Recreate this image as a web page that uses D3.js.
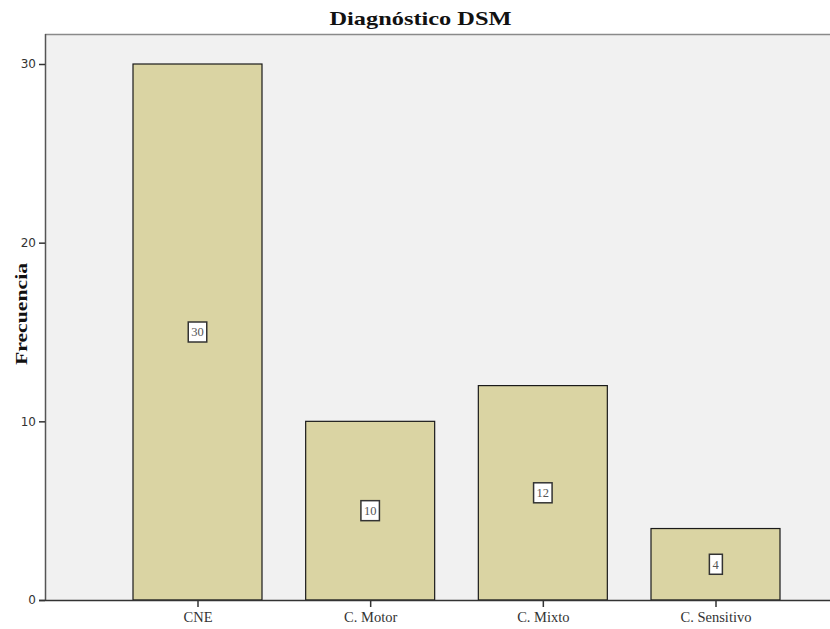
<!DOCTYPE html>
<html>
<head>
<meta charset="utf-8">
<script src="https://cdn.jsdelivr.net/npm/d3@7"></script>
<style>
  html, body { margin: 0; padding: 0; background: #fff; }
  svg { display: block; }
</style>
</head>
<body>
<svg id="chart" width="830" height="629"></svg>
<script>
// Diagnosis categories and their counts
const categories = ["CNE", "C. Motor", "C. Mixto", "C. Sensitivo"];
const frequencies = [30, 10, 12, 4];
const yTicks = [0, 10, 20, 30];
const chartTitle = "Diagnóstico DSM";
const yLabel = "Frecuencia";

const svg = d3.select("#chart");
const plot = { left: 45, top: 34, right: 831, bottom: 600 };

// Plot background
svg.append("rect")
  .attr("x", plot.left).attr("y", plot.top)
  .attr("width", plot.right - plot.left).attr("height", plot.bottom - plot.top)
  .attr("fill", "#f1f1f1");

// Top frame line
svg.append("line")
  .attr("x1", plot.left).attr("x2", plot.right)
  .attr("y1", plot.top + 0.5).attr("y2", plot.top + 0.5)
  .attr("stroke", "#8a8a8a").attr("stroke-width", 1.5);

const y = d3.scaleLinear().domain([0, 30]).range([plot.bottom, 64]);
const x = d3.scalePoint().domain(categories).range([197.5, 715.5]);
const barWidth = 129;

// Bars
const data = categories.map((c, i) => ({ cat: c, value: frequencies[i] }));
svg.append("g").selectAll("rect").data(data).join("rect")
  .attr("x", d => x(d.cat) - barWidth / 2)
  .attr("y", d => y(d.value))
  .attr("width", barWidth)
  .attr("height", d => y(0) - y(d.value))
  .attr("fill", "#dad4a3")
  .attr("stroke", "#1a1a1a")
  .attr("stroke-width", 1.2);

// Value labels in boxes at mid-height of each bar
const labels = svg.append("g").selectAll("g").data(data).join("g")
  .attr("transform", d => `translate(${x(d.cat)},${y(d.value / 2)})`);
labels.append("text")
  .attr("text-anchor", "middle")
  .attr("dy", "0.35em")
  .attr("font-family", "Liberation Serif, serif")
  .attr("font-size", 12.5)
  .attr("fill", "#555")
  .text(d => d.value);
labels.each(function () {
  const g = d3.select(this);
  const bb = g.select("text").node().getBBox();
  g.insert("rect", "text")
    .attr("x", bb.x - 3).attr("y", -10)
    .attr("width", bb.width + 6).attr("height", 20)
    .attr("fill", "#fff")
    .attr("stroke", "#333")
    .attr("stroke-width", 1.5);
});

// Y axis
const yAxis = svg.append("g")
  .attr("transform", `translate(${plot.left},0)`)
  .call(d3.axisLeft(y).tickValues(yTicks).tickSize(6).tickPadding(3).tickSizeOuter(0));
yAxis.select(".domain").attr("stroke", "#555").attr("stroke-width", 1.5)
  .attr("d", `M0.5,${plot.top}V${plot.bottom}`);
yAxis.selectAll(".tick line").attr("stroke", "#333").attr("stroke-width", 1.5);
yAxis.selectAll(".tick text")
  .attr("font-family", "DejaVu Sans, sans-serif")
  .attr("font-size", 12)
  .attr("fill", "#333");

// X axis
const xAxis = svg.append("g")
  .attr("transform", `translate(0,${plot.bottom})`)
  .call(d3.axisBottom(x).tickSize(7).tickPadding(5).tickSizeOuter(0));
xAxis.select(".domain").attr("stroke", "#333").attr("stroke-width", 1.5)
  .attr("d", `M${plot.left - 6},0.5H${plot.right}`);
xAxis.selectAll(".tick line").attr("stroke", "#333").attr("stroke-width", 1.5);
xAxis.selectAll(".tick text")
  .attr("font-family", "Liberation Serif, serif")
  .attr("font-size", 14.5)
  .attr("fill", "#333");

// Title
svg.append("text")
  .attr("x", 420.5).attr("y", 25)
  .attr("text-anchor", "middle")
  .attr("font-family", "Liberation Serif, serif")
  .attr("font-weight", "bold")
  .attr("font-size", 19)
  .attr("textLength", 182)
  .attr("lengthAdjust", "spacingAndGlyphs")
  .attr("fill", "#111")
  .text(chartTitle);

// Y axis title
svg.append("text")
  .attr("transform", "translate(27,314) rotate(-90)")
  .attr("text-anchor", "middle")
  .attr("font-family", "Liberation Serif, serif")
  .attr("font-weight", "bold")
  .attr("font-size", 17)
  .attr("textLength", 102)
  .attr("lengthAdjust", "spacingAndGlyphs")
  .attr("fill", "#111")
  .text(yLabel);
</script>
</body>
</html>
